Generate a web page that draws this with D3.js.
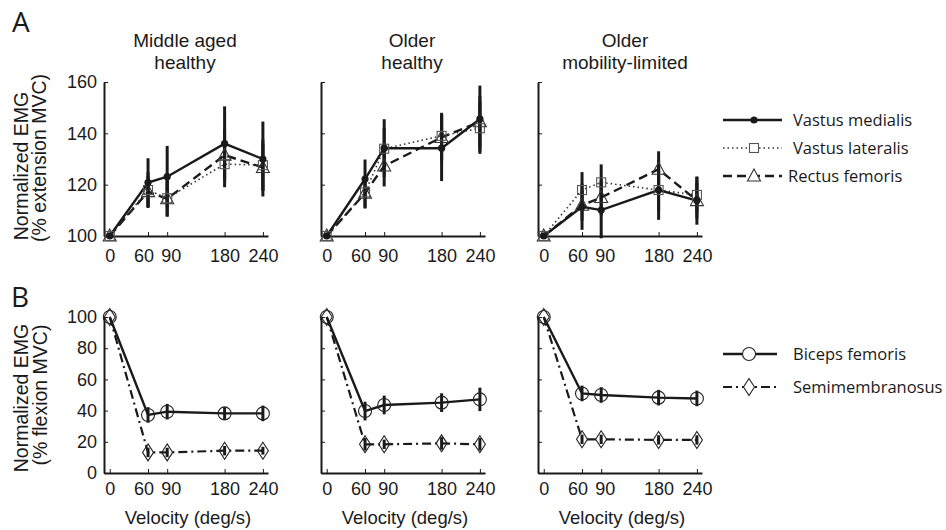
<!DOCTYPE html>
<html><head><meta charset="utf-8">
<script src="https://cdn.jsdelivr.net/npm/d3@7"></script>
<style>
body{margin:0;background:#fff;}
svg text{font-family:"Liberation Sans",Arial,Helvetica,sans-serif;fill:#1a1a1a;}
svg .leg text{font-family:"Open Sans","Noto Sans",sans-serif;}
</style></head>
<body><svg id="c" width="946" height="530"></svg>
<script>
const velocities = [0, 60, 90, 180, 240];
const xTicks = [0, 60, 90, 180, 240];
const topYTicks = [100, 120, 140, 160];
const botYTicks = [0, 20, 40, 60, 80, 100];
const titleLine1 = ["Middle aged", "Older", "Older"];
const titleLine2 = ["healthy", "healthy", "mobility-limited"];
const topSeriesNames = ["Vastus medialis", "Vastus lateralis", "Rectus femoris"];
const botSeriesNames = ["Biceps femoris", "Semimembranosus"];

// Panel A: extension (per group: middle aged healthy, older healthy, older mobility-limited)
const vmMean = [[100, 120.8, 123.1, 136.0, 130.0], [100, 122.2, 134.2, 134.2, 145.6], [100, 111.4, 110.1, 117.9, 113.8]];
const vmErr  = [[0, 9.5, 12, 14.5, 14.6], [0, 7.6, 11.3, 12.8, 13], [0, 9, 11, 11.6, 9.4]];
const vlMean = [[100, 117.9, 114.7, 128.0, 127.6], [100, 117.0, 134.0, 139.0, 142.0], [100, 117.9, 120.9, 117.9, 116.0]];
const vlErr  = [[0, 7, 7, 9, 10], [0, 6, 8, 9, 10], [0, 7, 7, 8, 7]];
const rfMean = [[100, 117.3, 114.5, 131.5, 126.7], [100, 116.7, 127.3, 138.4, 144.5], [100, 112.0, 115.0, 126.0, 113.8]];
const rfErr  = [[0, 6, 7, 10, 9], [0, 6, 8, 9, 10], [0, 6, 7, 7, 7]];

// Panel B: flexion
const bfMean = [[100, 37.2, 39.3, 38.2, 38.2], [100, 39.7, 43.6, 45.1, 47.2], [100, 51.0, 50.0, 48.3, 47.8]];
const bfErr  = [[0, 5, 5, 4, 5], [0, 6, 6, 6, 7.5], [0, 5, 5, 5, 5]];
const smMean = [[100, 13.2, 13.2, 14.3, 14.3], [100, 18.4, 18.4, 19.0, 18.4], [100, 21.6, 21.6, 21.2, 21.2]];
const smErr  = [[0, 3, 3, 3, 2.5], [0, 4, 3, 4, 4], [0, 3, 3, 3, 3]];

const svg = d3.select("#c");
const ink = "#1a1a1a";
const axisXs = [104, 321, 538];
const panelW = 164;
const topRange = [236, 82], botRange = [473, 317];
const labelShift = {60: -4.5, 90: 3.5};

const styles = {
  vm: {dash: null, w: 2.4, color: ink},
  vl: {dash: "1.5,3", w: 1.6, color: "#333"},
  rf: {dash: "9,5", w: 2.4, color: ink},
  bf: {dash: null, w: 2.4, color: ink},
  sm: {dash: "9,4,2,4", w: 2.2, color: ink}
};

function marker(g, type, x, y, fill) {
  if (type === "vm") g.append("circle").attr("cx", x).attr("cy", y).attr("r", 3.6).attr("fill", ink);
  else if (type === "vl") g.append("rect").attr("x", x - 4.5).attr("y", y - 4.5).attr("width", 9).attr("height", 9).attr("fill", fill).attr("stroke", "#555").attr("stroke-width", 1.1);
  else if (type === "rf") g.append("path").attr("d", `M${x},${y-7}L${x+6.5},${y+5}L${x-6.5},${y+5}Z`).attr("fill", fill).attr("stroke", "#333").attr("stroke-width", 1.1);
  else if (type === "bf") g.append("circle").attr("cx", x).attr("cy", y).attr("r", 6.5).attr("fill", fill).attr("stroke", "#222").attr("stroke-width", 1.1);
  else if (type === "sm") g.append("path").attr("d", `M${x},${y-8.5}L${x+5.5},${y}L${x},${y+8.5}L${x-5.5},${y}Z`).attr("fill", fill).attr("stroke", "#222").attr("stroke-width", 1.1);
}

function drawPanel(i, yDomain, yRange, yTicks, series, tickPad, showY) {
  const ax = axisXs[i];
  const x = d3.scaleLinear().domain([-9, 248]).range([ax, ax + panelW]);
  const y = d3.scaleLinear().domain(yDomain).range(yRange);
  const g = svg.append("g");
  const xa = g.append("g").attr("transform", `translate(0,${yRange[0]})`)
    .call(d3.axisBottom(x).tickValues(xTicks).tickSizeInner(-4).tickSizeOuter(0).tickPadding(tickPad).tickFormat(d3.format("d")));
  xa.selectAll(".tick text").attr("dx", d => labelShift[d] || 0);
  const ya = g.append("g").attr("transform", `translate(${ax},0)`)
    .call(d3.axisLeft(y).tickValues(yTicks).tickSizeInner(-4).tickSizeOuter(0).tickPadding(7).tickFormat(showY ? d3.format("d") : () => ""));
  [xa, ya].forEach(a => {
    a.select(".domain").attr("stroke", ink).attr("stroke-width", 2);
    a.selectAll(".tick line").attr("stroke", ink).attr("stroke-width", 1);
    a.selectAll("text").attr("font-size", 18).attr("fill", ink);
  });
  series.forEach(s => {
    velocities.forEach((v, k) => {
      if (s.err[k] > 0)
        g.append("line").attr("x1", x(v)).attr("x2", x(v)).attr("y1", y(s.mean[k] - s.err[k])).attr("y2", y(s.mean[k] + s.err[k]))
          .attr("stroke", ink).attr("stroke-width", 3);
    });
  });
  const line = d3.line().x((d, k) => x(velocities[k])).y(d => y(d));
  series.slice().reverse().forEach(s => {
    const st = styles[s.type];
    g.append("path").attr("d", line(s.mean)).attr("fill", "none").attr("stroke", st.color)
      .attr("stroke-width", st.w).attr("stroke-dasharray", st.dash);
  });
  series.slice().reverse().forEach(s => {
    velocities.forEach((v, k) => marker(g, s.type, x(v), y(s.mean[k]), "none"));
  });
  return x;
}

for (let i = 0; i < 3; i++) {
  drawPanel(i, [100, 160], topRange, topYTicks, [
    {type: "vm", mean: vmMean[i], err: vmErr[i]},
    {type: "vl", mean: vlMean[i], err: vlErr[i]},
    {type: "rf", mean: rfMean[i], err: rfErr[i]}
  ], 13, i === 0);
  drawPanel(i, [0, 100], botRange, botYTicks, [
    {type: "bf", mean: bfMean[i], err: bfErr[i]},
    {type: "sm", mean: smMean[i], err: smErr[i]}
  ], 9, i === 0);
}

const titleX = [185, 412, 625];
titleX.forEach((cx, i) => {
  svg.append("text").attr("x", cx).attr("y", 47).attr("text-anchor", "middle").attr("font-size", 19).text(titleLine1[i]);
  svg.append("text").attr("x", cx).attr("y", 69).attr("text-anchor", "middle").attr("font-size", 19).text(titleLine2[i]);
});
axisXs.forEach(ax => {
  svg.append("text").attr("x", ax + 84).attr("y", 524).attr("text-anchor", "middle").attr("font-size", 18.5).text("Velocity (deg/s)");
});
svg.append("text").attr("x", 12).attr("y", 32).attr("font-size", 28).style("font-family", "Open Sans, sans-serif").text("A");
svg.append("text").attr("x", 11).attr("y", 307).attr("font-size", 28).style("font-family", "Open Sans, sans-serif").text("B");
function ylab(x, cy, txt) {
  svg.append("text").attr("transform", `translate(${x},${cy}) rotate(-90)`).attr("text-anchor", "middle").attr("font-size", 19.5).text(txt);
}
ylab(28, 166, "Normalized EMG");
ylab(46, 158, "(% extension MVC)");
ylab(28, 398, "Normalized EMG");
ylab(47, 395, "(%  flexion MVC)");

const leg = svg.append("g").attr("class", "leg");
const topLegY = [120, 148, 176], topTypes = ["vm", "vl", "rf"];
topTypes.forEach((t, i) => {
  const st = styles[t];
  leg.append("line").attr("x1", 723).attr("x2", 782).attr("y1", topLegY[i]).attr("y2", topLegY[i])
    .attr("stroke", st.color).attr("stroke-width", st.w).attr("stroke-dasharray", st.dash);
  marker(leg, t, 754, topLegY[i], "#fff");
  leg.append("text").attr("x", i === 2 ? 788 : 793).attr("y", topLegY[i] + 6).attr("font-size", 16.5).text(topSeriesNames[i]);
});
const botLegY = [354, 387], botTypes = ["bf", "sm"];
botTypes.forEach((t, i) => {
  const st = styles[t];
  leg.append("line").attr("x1", 723).attr("x2", 777).attr("y1", botLegY[i]).attr("y2", botLegY[i])
    .attr("stroke", st.color).attr("stroke-width", st.w).attr("stroke-dasharray", st.dash);
  marker(leg, t, 749, botLegY[i], "#fff");
  leg.append("text").attr("x", 793).attr("y", botLegY[i] + 6).attr("font-size", 16.5).text(botSeriesNames[i]);
});
</script></body></html>
